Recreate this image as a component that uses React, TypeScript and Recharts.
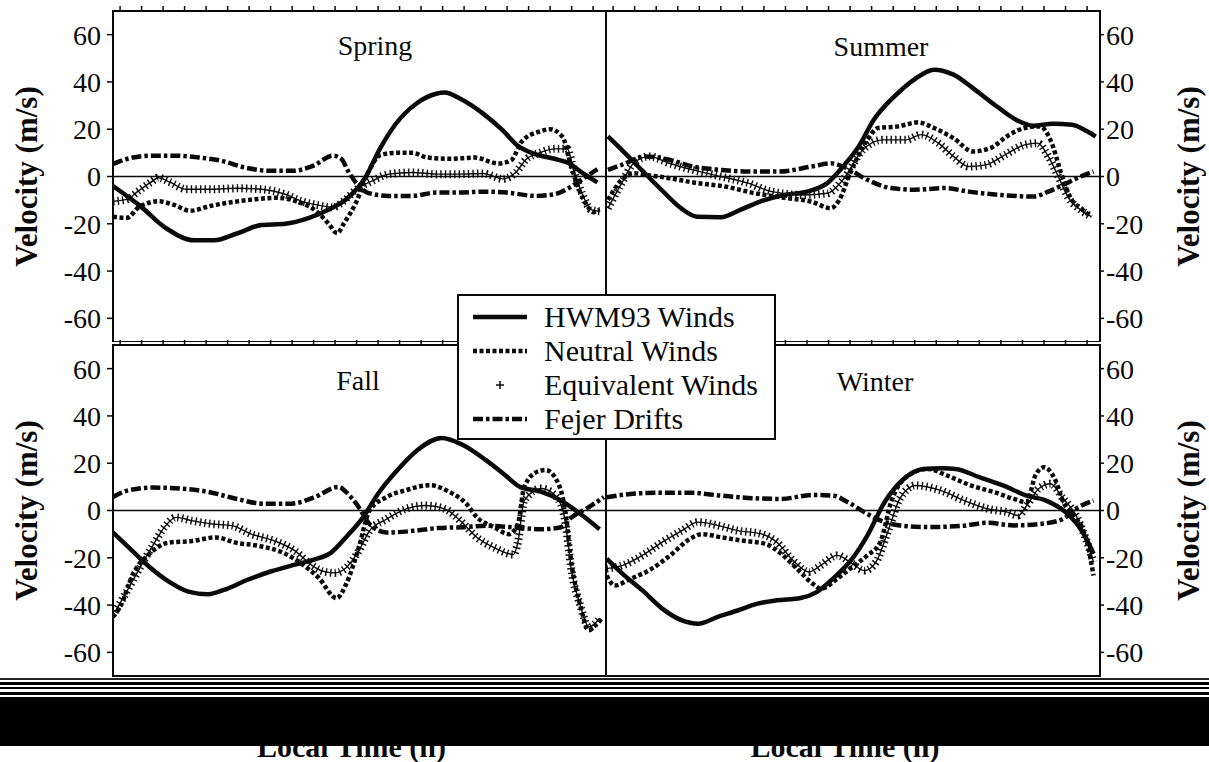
import React from "react";
import { LineChart, Line, XAxis, YAxis, ReferenceLine, ReferenceArea, Label } from "recharts";

// local time ticks (h) and velocity ticks (m/s)
const hourTicks = [0, 1, 2, 3, 4, 5, 6, 7, 8, 9, 10, 11, 12, 13, 14, 15, 16, 17, 18, 19, 20, 21, 22];
const velocityTicks = [-60, -40, -20, 0, 20, 40, 60];
const seriesNames = ["HWM93 Winds", "Neutral Winds", "Equivalent Winds", "Fejer Drifts"];

// [local time, velocity] pairs
const springHwm = [[-0.33, -4], [0.87, -12], [2.16, -22], [3.45, -27], [4.37, -27], [5.47, -24], [6.58, -20.5], [7.68, -20], [8.79, -17.5], [9.71, -14], [10.6, -9], [11.4, -0.5], [12.1, 12], [12.8, 22], [13.8, 31], [14.7, 35], [15.1, 35.5], [15.8, 33], [16.9, 26.5], [17.8, 19.5], [18.5, 13], [19.3, 9.5], [20.2, 7.5], [20.9, 5.5], [21.5, 1.5], [22.2, -2.5]];
const springNeutral = [[-0.33, -17], [0.31, -17.5], [0.87, -13], [1.79, -10.5], [2.5, -12], [3.26, -14.5], [4.18, -12.5], [5.1, -11], [6.2, -9.7], [7.3, -9], [8.2, -10.5], [9.1, -14.5], [9.7, -20], [10.1, -24], [10.4, -20], [11.0, -10.5], [11.5, 1], [12.1, 9], [12.8, 10], [13.6, 10], [14.3, 8], [15.4, 7.5], [16.5, 8], [17.6, 5.5], [18.2, 7], [18.7, 15], [19.5, 19], [20.0, 20], [20.6, 16.5], [20.9, 7], [21.3, -4.5], [21.7, -12], [22.0, -15], [22.3, -14]];
const springEquiv = [[-0.33, -10.5], [0.31, -9.7], [0.87, -6], [1.42, -2.5], [1.79, -0.5], [2.34, -2.5], [3.08, -5.4], [4.18, -5.4], [5.47, -5], [6.58, -5.4], [7.68, -7.5], [8.42, -10.4], [9.15, -12], [9.9, -13], [10.4, -10.4], [11.0, -5.4], [11.7, -2], [12.5, 1], [13.6, 1.7], [14.7, 1], [15.8, 1], [16.9, 1.3], [17.8, -1], [18.4, 1.7], [18.9, 7.4], [19.5, 10], [20.2, 11.7], [20.8, 11.7], [21.1, 2.4], [21.5, -7.5], [21.9, -14], [22.3, -14.7]];
const springFejer = [[-0.33, 5.3], [0.31, 7.4], [1.42, 8.8], [2.5, 8.8], [3.6, 8.1], [4.7, 6.7], [5.8, 3.8], [7.0, 2.4], [8.05, 2.4], [9.0, 4.6], [9.9, 8.8], [10.3, 7.4], [10.6, 2.4], [11.1, -4], [11.5, -6.8], [12.5, -8.2], [13.6, -8.2], [14.7, -6.8], [15.8, -6.8], [16.9, -6.4], [18.0, -6.8], [19.3, -8.2], [20.2, -7.5], [20.9, -4.7], [21.5, -1.1], [22.2, 3.1]];

const summerHwm = [[-0.24, 17], [0.4, 11.3], [1.32, 2.8], [2.24, -5.6], [3.15, -13.4], [3.89, -17], [5.0, -17.2], [5.9, -14.1], [6.82, -10.6], [7.92, -7.8], [9.0, -6.4], [9.94, -2.8], [10.67, 4.2], [11.4, 12.7], [12.1, 24], [13.06, 33.9], [13.97, 41], [14.9, 45.2], [15.8, 43.1], [16.7, 37.4], [17.8, 29.7], [18.7, 24], [19.5, 21.5], [20.4, 22.3], [21.3, 21.9], [22.0, 19.1], [22.4, 16.9]];
const summerNeutral = [[-0.24, -9.9], [0.4, -1.4], [0.95, 1.4], [1.5, 0.7], [2.6, -0.7], [3.9, -2.8], [5.17, -4.2], [6.6, -7.1], [8.1, -9.2], [9.2, -10.6], [10.1, -13.4], [10.5, -9.9], [11.0, 1.4], [11.8, 15.5], [12.3, 20.5], [13.24, 21.2], [14.15, 22.9], [14.9, 20.5], [15.8, 16.2], [16.7, 10.6], [17.5, 12], [18.4, 17.7], [19.1, 20.5], [19.8, 21.2], [20.3, 15.5], [20.8, 1.4], [21.2, -8.5], [21.8, -14.1], [22.2, -17]];
const summerEquiv = [[-0.24, -13.4], [0.4, -2.8], [0.95, 5.6], [1.69, 8.5], [2.6, 5.6], [3.7, 2.8], [5.0, 0], [6.27, -2.8], [7.37, -6.4], [8.84, -7.8], [9.94, -7.1], [10.67, -1.4], [11.6, 11.3], [12.5, 15.5], [13.6, 15.5], [14.3, 17.7], [15.1, 14.1], [15.8, 8.5], [16.5, 4.2], [17.3, 4.9], [18.2, 9.2], [19.1, 13.4], [19.7, 14.1], [20.2, 8.5], [20.7, -0.7], [21.1, -8.5], [21.7, -14.1], [22.2, -17]];
const summerFejer = [[-0.24, 2.8], [0.4, 4.9], [1.5, 8.5], [2.6, 7.1], [3.7, 4.2], [5.0, 2.8], [6.27, 2.1], [7.7, 2.1], [9.2, 4.2], [10.1, 5.6], [10.85, 3.5], [11.8, -1.4], [12.9, -4.9], [14.0, -5.6], [15.4, -4.9], [16.5, -6.4], [18.0, -7.8], [19.5, -8.5], [20.2, -6.4], [20.9, -3.5], [21.7, 0], [22.3, 2.1]];

const fallHwm = [[-0.33, -9.3], [0.41, -15.7], [1.33, -23.6], [2.25, -30], [3.17, -34.3], [4.09, -35.4], [4.83, -33.6], [5.93, -29.3], [7.04, -25.7], [8.14, -22.9], [9.06, -20.7], [9.8, -17.9], [10.5, -11.4], [11.3, -2.9], [12.0, 7.1], [12.9, 17.1], [13.85, 25.7], [14.95, 30.7], [15.9, 27.9], [17.0, 21.4], [17.9, 15], [18.6, 10], [19.6, 7.9], [20.5, 4.3], [21.4, -1.4], [22.3, -7.9]];
const fallNeutral = [[-0.33, -45], [0.04, -40], [0.59, -27], [1.33, -18.6], [2.25, -13.6], [3.35, -12.9], [4.46, -11.4], [5.38, -13.6], [6.48, -15], [7.59, -17.9], [8.5, -22.9], [9.25, -28.6], [10.07, -37.1], [10.5, -31.4], [11.1, -15.7], [11.6, 0], [12.4, 5.7], [13.3, 8.6], [14.4, 10.7], [15.3, 7.9], [16.1, 2.9], [16.6, -2.9], [17.4, -7.1], [18.1, -10], [18.5, -5.7], [18.8, 10], [19.4, 16.4], [19.8, 17.1], [20.3, 12.9], [20.7, 0], [21.0, -22.9], [21.4, -40], [21.8, -50.7], [22.1, -48.6], [22.4, -45.7]];
const fallEquiv = [[-0.24, -42.9], [0.22, -35.7], [0.96, -23.6], [1.51, -15], [2.06, -7.1], [2.6, -2.9], [3.35, -4.3], [4.27, -5.7], [5.2, -6.4], [6.1, -10], [7.2, -12.9], [8.14, -17.1], [8.88, -22.9], [9.43, -25.7], [9.98, -26.4], [10.5, -24.3], [11.1, -17.1], [11.6, -8.6], [12.4, -3.6], [13.3, 0.7], [14.2, 2.1], [15.1, 0.7], [15.9, -5], [16.6, -11.4], [17.4, -15.7], [18.3, -18.6], [18.5, -13.6], [18.8, 4.3], [19.6, 9.3], [20.3, 5.7], [20.7, -4.3], [21.0, -25.7], [21.4, -40], [21.8, -49.3], [22.3, -45.7]];
const fallFejer = [[-0.33, 5.7], [0.41, 8.6], [1.51, 9.7], [2.8, 9.3], [4.09, 7.9], [5.38, 5], [6.67, 2.9], [7.96, 2.9], [9.06, 5.7], [10.17, 10], [10.5, 7.9], [11.1, 1.4], [11.6, -5.7], [12.4, -9.3], [13.67, -8.6], [14.8, -7.4], [15.9, -7.1], [17.0, -6.4], [18.3, -7.1], [19.6, -7.9], [20.5, -7.1], [21.0, -2.9], [21.8, 1.4], [22.5, 5.7]];

const winterHwm = [[-0.3, -20.4], [0.44, -26.8], [1.36, -33.8], [2.28, -41.5], [3.2, -46.5], [3.94, -47.9], [4.86, -45], [5.78, -42.3], [6.7, -39.4], [7.6, -38], [8.7, -37], [9.45, -34.5], [10.2, -28.9], [11.1, -20.4], [11.8, -10.6], [12.6, 3.5], [13.5, 13.4], [14.4, 17.6], [15.3, 17.9], [15.9, 17.6], [17.0, 14.1], [18.1, 10.6], [19.2, 6.3], [20.1, 4.2], [21.0, -0.7], [21.8, -9.2], [22.3, -18.3]];
const winterNeutral = [[-0.3, -27.5], [0.07, -31.7], [0.81, -28.9], [1.73, -25], [2.65, -19], [3.57, -12], [4.12, -10], [5.0, -11.3], [5.96, -12.7], [7.06, -14.1], [7.8, -18.3], [8.53, -24.6], [9.27, -31], [9.64, -33.1], [10.4, -28.9], [11.1, -23.9], [11.8, -19], [12.4, -13.4], [12.9, 3.5], [13.7, 14.8], [14.6, 17.6], [15.5, 14.8], [16.6, 10.6], [17.7, 7.7], [18.6, 4.9], [19.2, 3.5], [19.6, 14.8], [20.0, 18.3], [20.5, 13.4], [20.9, 3.5], [21.4, -2.1], [22.0, -13.4], [22.3, -27.5]];
const winterEquiv = [[-0.3, -24.6], [0.44, -23.2], [1.36, -19], [2.28, -13.4], [3.2, -8.5], [3.94, -4.9], [4.86, -6.3], [5.78, -8.5], [6.88, -9.9], [7.6, -13.4], [8.35, -21.1], [9.1, -26], [9.64, -23.2], [10.4, -19], [11.1, -22.5], [11.66, -25.4], [12.2, -21.8], [12.8, -7.7], [13.3, 4.9], [14.05, 10.6], [15.2, 8.5], [16.3, 4.2], [17.4, 0.7], [18.3, -0.7], [18.8, -2.1], [19.2, 2.1], [19.75, 9.2], [20.3, 11.3], [20.9, 4.9], [21.4, -0.7], [22.0, -13.4], [22.3, -21.8]];
const winterFejer = [[-0.3, 5.6], [0.81, 7], [2.1, 7.5], [3.57, 7.5], [5.0, 6.3], [6.5, 5.2], [7.8, 4.9], [9.27, 6.6], [10.2, 6.3], [10.9, 3.5], [11.66, -0.7], [12.4, -4.2], [13.3, -6.3], [14.6, -7], [16.1, -6.6], [17.4, -5.2], [18.6, -6.3], [19.9, -5.6], [20.9, -3.5], [21.6, 1.4], [22.3, 4.2]];

const X_DOMAIN = [-0.33, 22.6];
const Y_DOMAIN = [-70, 70];
const FONT = "Liberation Serif";
const INK = "#0a0a0a";
const NEUTRAL_DASH = "4 2.5";
const FEJER_DASH = "10 3 3.5 3";

const toPts = (arr: number[][]) => arr.map(([t, v]) => ({ t, v }));

type PanelProps = {
  title: string;
  titleX: number;
  titleTop: number;
  side: "left" | "right";
  row: "top" | "bottom";
  hwm: number[][];
  neutral: number[][];
  equiv: number[][];
  fejer: number[][];
};

function Panel({ title, titleX, titleTop, side, row, hwm, neutral, equiv, fejer }: PanelProps) {
  const left = side === "left" ? 0 : 606;
  const width = side === "left" ? 606 : 603;
  const top = row === "top" ? 0 : 334;
  const height = row === "top" ? 342 : 428;
  const tickStyle = { fontSize: 28, fill: INK, fontFamily: FONT };

  return (
    <div style={{ position: "absolute", left, top, width, height }}>
      <LineChart width={width} height={height} margin={{ top: 0, right: 0, bottom: 0, left: 0 }} style={{ fontFamily: FONT }}>
        <XAxis
          xAxisId="top"
          type="number"
          dataKey="t"
          domain={X_DOMAIN}
          ticks={hourTicks}
          orientation="top"
          height={11}
          tickSize={5}
          tickFormatter={() => ""}
          stroke={INK}
          strokeWidth={1.5}
          allowDataOverflow
        />
        {row === "bottom" && (
          <XAxis
            xAxisId="bottom"
            type="number"
            dataKey="t"
            domain={X_DOMAIN}
            ticks={hourTicks}
            orientation="bottom"
            height={86}
            tick={false}
            stroke={INK}
            allowDataOverflow
          >
            <Label
              value="Local Time (h)"
              position="insideBottom"
              offset={5}
              dx={-8}
              style={{ fontSize: 30, fontWeight: 700, fill: INK, fontFamily: FONT }}
            />
          </XAxis>
        )}
        <YAxis
          type="number"
          domain={Y_DOMAIN}
          ticks={velocityTicks}
          orientation={side}
          width={side === "left" ? 113 : 109}
          tick={tickStyle}
          tickSize={side === "left" ? 6 : 4}
          tickMargin={side === "left" ? 6 : 2}
          stroke={INK}
          strokeWidth={1.5}
          allowDataOverflow
        >
          <Label
            value="Velocity (m/s)"
            angle={-90}
            position={side === "left" ? "insideLeft" : "insideRight"}
            offset={side === "left" ? 26 : 21}
            style={{ fontSize: 31, fontWeight: 700, fill: INK, fontFamily: FONT, textAnchor: "middle" }}
          />
        </YAxis>
        <ReferenceArea
          xAxisId="top"
          x1={X_DOMAIN[0]}
          x2={X_DOMAIN[1]}
          y1={Y_DOMAIN[0]}
          y2={Y_DOMAIN[1]}
          fill="none"
          stroke={INK}
          strokeWidth={2}
          ifOverflow="visible"
        />
        <ReferenceLine xAxisId="top" y={0} stroke={INK} strokeWidth={1.3} />
        <Line
          xAxisId="top"
          data={toPts(fejer)}
          dataKey="v"
          name={seriesNames[3]}
          type="monotone"
          stroke={INK}
          strokeWidth={4.5}
          strokeDasharray={FEJER_DASH}
          dot={false}
          isAnimationActive={false}
        />
        <Line
          xAxisId="top"
          data={toPts(neutral)}
          dataKey="v"
          name={seriesNames[1]}
          type="monotone"
          stroke={INK}
          strokeWidth={4.5}
          strokeDasharray={NEUTRAL_DASH}
          dot={false}
          isAnimationActive={false}
        />
        <Line
          xAxisId="top"
          data={toPts(equiv)}
          dataKey="v"
          name={seriesNames[2]}
          type="monotone"
          stroke={INK}
          strokeWidth={1.4}
          dot={false}
          isAnimationActive={false}
        />
        <Line
          xAxisId="top"
          data={toPts(equiv)}
          dataKey="v"
          legendType="none"
          type="monotone"
          stroke={INK}
          strokeWidth={8}
          strokeDasharray="1.4 3.2"
          dot={false}
          isAnimationActive={false}
        />
        <Line
          xAxisId="top"
          data={toPts(hwm)}
          dataKey="v"
          name={seriesNames[0]}
          type="monotone"
          stroke={INK}
          strokeWidth={4.5}
          dot={false}
          isAnimationActive={false}
        />
      </LineChart>
      <div
        style={{
          position: "absolute",
          left: titleX - left,
          top: titleTop - top,
          transform: "translateX(-50%)",
          fontSize: 28,
          lineHeight: "28px",
          fontFamily: FONT,
          color: INK,
          whiteSpace: "nowrap",
        }}
      >
        {title}
      </div>
    </div>
  );
}

function LegendBox() {
  const sample = (i: number) => {
    if (i === 0) return <line x1={0} y1={6} x2={54} y2={6} stroke={INK} strokeWidth={4.5} />;
    if (i === 1) return <line x1={0} y1={6} x2={54} y2={6} stroke={INK} strokeWidth={4.5} strokeDasharray={NEUTRAL_DASH} />;
    if (i === 2)
      return (
        <g stroke={INK} strokeWidth={1.5}>
          <line x1={23} y1={6} x2={31} y2={6} />
          <line x1={27} y1={2} x2={27} y2={10} />
        </g>
      );
    return <line x1={0} y1={6} x2={54} y2={6} stroke={INK} strokeWidth={4.5} strokeDasharray={FEJER_DASH} />;
  };
  return (
    <div
      style={{
        position: "absolute",
        left: 457,
        top: 294,
        width: 319,
        height: 146,
        boxSizing: "border-box",
        border: `2px solid ${INK}`,
        background: "#fff",
        fontFamily: FONT,
        fontSize: 30,
        color: INK,
      }}
    >
      {seriesNames.map((name, i) => (
        <div key={name} style={{ position: "absolute", left: 0, top: 4 + i * 34, height: 34, display: "flex", alignItems: "center" }}>
          <svg width={54} height={12} style={{ marginLeft: 14, marginRight: 17 }}>
            {sample(i)}
          </svg>
          <span style={{ whiteSpace: "nowrap", lineHeight: "34px" }}>{name}</span>
        </div>
      ))}
    </div>
  );
}

export default function App() {
  return (
    <div
      style={{
        position: "absolute",
        left: 0,
        top: 0,
        width: 1209,
        height: 762,
        overflow: "hidden",
        background: "#fff",
        fontFamily: FONT,
      }}
    >
      <Panel title="Spring" titleX={375} titleTop={32} side="left" row="top" hwm={springHwm} neutral={springNeutral} equiv={springEquiv} fejer={springFejer} />
      <Panel title="Summer" titleX={881} titleTop={33} side="right" row="top" hwm={summerHwm} neutral={summerNeutral} equiv={summerEquiv} fejer={summerFejer} />
      <Panel title="Fall" titleX={358} titleTop={367} side="left" row="bottom" hwm={fallHwm} neutral={fallNeutral} equiv={fallEquiv} fejer={fallFejer} />
      <Panel title="Winter" titleX={875} titleTop={368} side="right" row="bottom" hwm={winterHwm} neutral={winterNeutral} equiv={winterEquiv} fejer={winterFejer} />
      <LegendBox />
      {/* scanner smear across the bottom of the page */}
      <div style={{ position: "absolute", left: 0, top: 678, width: 1209, height: 2, background: "#222" }} />
      <div style={{ position: "absolute", left: 0, top: 682, width: 1209, height: 3, background: "#000" }} />
      <div style={{ position: "absolute", left: 0, top: 687, width: 1209, height: 2, background: "#000" }} />
      <div style={{ position: "absolute", left: 0, top: 692, width: 1209, height: 3, background: "#000" }} />
      <div style={{ position: "absolute", left: 0, top: 697, width: 1209, height: 49, background: "#000" }} />
    </div>
  );
}
